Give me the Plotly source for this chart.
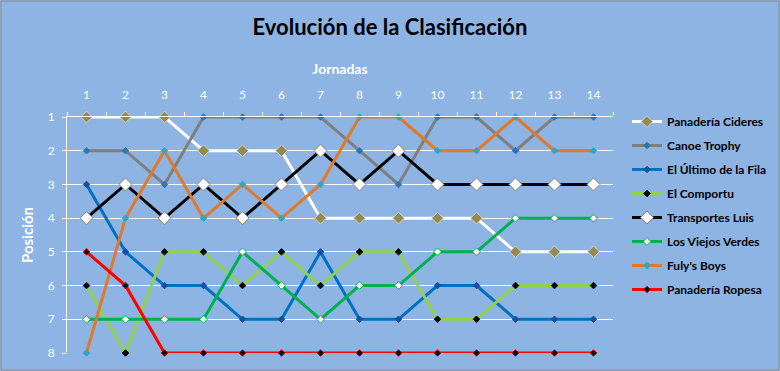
import plotly.graph_objects as go

jornadas = list(range(1, 15))
teams = ["Panadería Cideres", "Canoe Trophy", "El Último de la Fila", "El Comportu",
         "Transportes Luis", "Los Viejos Verdes", "Fuly's Boys", "Panadería Ropesa"]
cideres = [1, 1, 1, 2, 2, 2, 4, 4, 4, 4, 4, 5, 5, 5]
canoe = [2, 2, 3, 1, 1, 1, 1, 2, 3, 1, 1, 2, 1, 1]
ultimo = [3, 5, 6, 6, 7, 7, 5, 7, 7, 6, 6, 7, 7, 7]
comportu = [6, 8, 5, 5, 6, 5, 6, 5, 5, 7, 7, 6, 6, 6]
transportes = [4, 3, 4, 3, 4, 3, 2, 3, 2, 3, 3, 3, 3, 3]
viejos = [7, 7, 7, 7, 5, 6, 7, 6, 6, 5, 5, 4, 4, 4]
fulys = [8, 4, 2, 4, 3, 4, 3, 1, 1, 2, 2, 1, 2, 2]
ropesa = [5, 6, 8, 8, 8, 8, 8, 8, 8, 8, 8, 8, 8, 8]
series = [cideres, canoe, ultimo, comportu, transportes, viejos, fulys, ropesa]

styles = [
    dict(lc="#FFFFFF", mc="#948A54", ml="#D8D4C0", ms=9),
    dict(lc="#7F7F7F", mc="#2E75B6", ml="#2E75B6", ms=5),
    dict(lc="#0070C0", mc="#1F4E99", ml="#1F4E99", ms=5),
    dict(lc="#92D050", mc="#000000", ml="#000000", ms=5),
    dict(lc="#000000", mc="#FFFFFF", ml="#7F7F7F", ms=10),
    dict(lc="#00B050", mc="#FFFFFF", ml="#00B050", ms=6),
    dict(lc="#E07A2A", mc="#31A5C8", ml="#31A5C8", ms=5),
    dict(lc="#FF0000", mc="#000000", ml="#C00000", ms=5),
]

W, H = 780, 371
L, R, T, B = 67, 167, 117, 18
FONT = "Lato, Open Sans, sans-serif"
BG = "#8DB4E2"

fig = go.Figure()
for i, (name, vals, st) in enumerate(zip(teams, series, styles)):
    fig.add_trace(go.Scatter(
        x=jornadas, y=vals, name=f"<b>{name}</b>", mode="lines+markers",
        line=dict(color=st["lc"], width=3),
        marker=dict(symbol="diamond", size=st["ms"], color=st["mc"],
                    line=dict(color=st["ml"], width=1)),
        cliponaxis=False, legendgroup=str(i),
    ))

fig.update_layout(
    width=W, height=H,
    paper_bgcolor=BG, plot_bgcolor=BG,
    margin=dict(l=L, r=R, t=T, b=B, pad=0, autoexpand=False),
    font=dict(family=FONT, color="white", size=12),
    title=dict(text="<b>Evolución de la Clasificación</b>", x=0.5, xanchor="center",
               y=1 - 27 / H, yanchor="middle",
               font=dict(size=22, color="black", family=FONT)),
    showlegend=True,
    legend=dict(x=(627 - L) / (W - L - R), xanchor="left", y=1 - (107 - T) / (H - T - B),
                yanchor="top", bgcolor="rgba(0,0,0,0)", tracegroupgap=5,
                font=dict(size=12, color="black", family=FONT),
                itemwidth=30, maxheight=330),
    xaxis=dict(side="top", range=[0.5, 14.5], tickvals=jornadas, automargin=False,
               ticktext=[str(j) for j in jornadas], showgrid=False, zeroline=False,
               showline=True, linecolor="white", linewidth=1, ticks="",
               tickfont=dict(color="white", size=12), ticklabelstandoff=12,
               minor=dict(tickvals=[j + 0.5 for j in range(0, 15)], ticks="outside",
                          ticklen=4, tickcolor="white", showgrid=False),
               title=dict(text="<b>Jornadas</b>", font=dict(size=14, color="white"), standoff=9)),
    yaxis=dict(range=[8, 1], tickvals=list(range(1, 9)), showgrid=True, gridcolor="white",
               gridwidth=1, zeroline=False, showline=True, linecolor="white", linewidth=1,
               ticks="outside", ticklen=4, tickcolor="white", automargin=False,
               tickfont=dict(color="white", size=12), ticklabelstandoff=5,
               title=dict(text="<b>Posición</b>", font=dict(size=15, color="white"), standoff=10)),
    shapes=[dict(type="rect", xref="paper", yref="paper",
                 x0=-(L - 1) / (W - L - R), x1=1 + (R - 1) / (W - L - R),
                 y0=-(B - 1) / (H - T - B), y1=1 + (T - 1) / (H - T - B),
                 line=dict(color="#8C8C8C", width=1), layer="below")],
)

fig.write_html("out.html", config={"displayModeBar": False},
               post_script=f"document.body.style.margin='0';document.body.style.background='{BG}';")
